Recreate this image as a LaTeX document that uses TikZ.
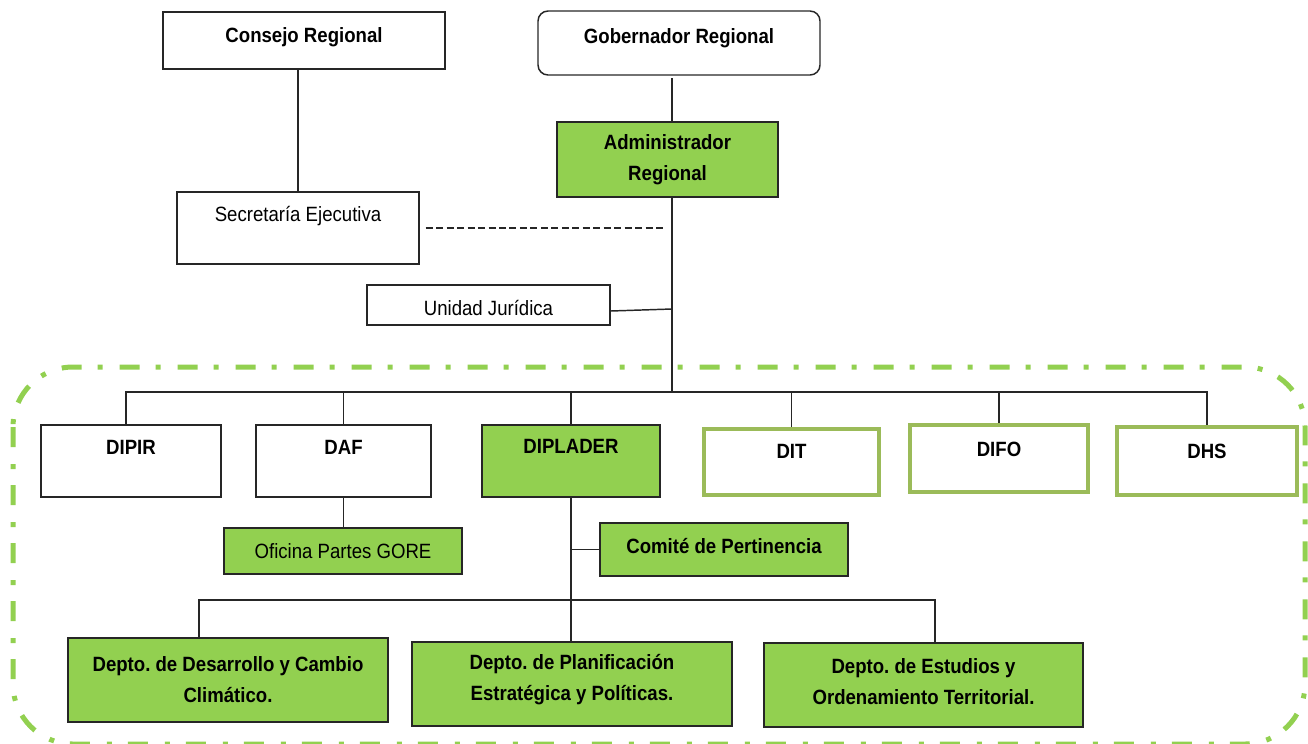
\documentclass[tikz,border=0pt]{standalone}
\usepackage{fontspec}
\setmainfont{Liberation Sans}[FakeStretch=0.9]
\frenchspacing
\newcommand\orgfont{\fontsize{15.5}{23.25}\selectfont}
\definecolor{gfill}{RGB}{146,208,80}
\definecolor{gedge}{RGB}{155,187,89}
\definecolor{gline}{RGB}{38,38,38}

\tikzset{every picture/.style={line width=1.1pt}}
\tikzset{
  box/.style={draw=gline, line width=1.1pt, inner sep=0pt},
  gbox/.style={box, fill=gfill},
  obox/.style={draw=gedge, line width=3pt, inner sep=0pt},
  btxt/.style={font=\orgfont\bfseries, align=center, inner sep=0pt},
  rtxt/.style={font=\orgfont, align=center, inner sep=0pt},
  link/.style={draw=gline, line width=1.1pt},
  frame/.style={draw=gfill, line width=3.75pt, rounded corners=45pt,
    dash pattern=on 15pt off 12.75pt on 3.75pt off 12pt}
}

\begin{document}
\begin{tikzpicture}[x=0.75pt,y=0.75pt,yscale=-1,xscale=1]
	\useasboundingbox (0,0) rectangle (1308,743);

	%Rounded Rect [green frame]
	\draw [frame] (13,367) rectangle (1305,744);

	%Top level
	\node [box, minimum width=211.5pt, minimum height=42.75pt,
	  label={[btxt, yshift=2.6pt]center:Consejo Regional}] (consejo) at (304,40.5) {};
	\node [box, rounded corners=7.5pt, minimum width=211.5pt, minimum height=48pt,
	  label={[btxt, yshift=3.75pt]center:Gobernador Regional}] (gob) at (679,43) {};
	\node [gbox, minimum width=165.75pt, minimum height=56.25pt,
	  label={[btxt]center:Administrador\\Regional}] (admin) at (667.5,159.5) {};
	\node [box, minimum width=181.5pt, minimum height=54pt,
	  label={[rtxt, yshift=9pt]center:Secretaría Ejecutiva}] (secre) at (298,228) {};
	\node [box, minimum width=182.25pt, minimum height=30pt,
	  label={[rtxt, yshift=-2.25pt]center:Unidad Jurídica}] (unidad) at (488.5,305) {};

	%Divisions
	\node [box, minimum width=135pt, minimum height=54pt,
	  label={[btxt, yshift=10.5pt]center:DIPIR}] (dipir) at (131,461) {};
	\node [box, minimum width=131.25pt, minimum height=54pt,
	  label={[btxt, yshift=10.5pt]center:DAF}] (daf) at (343.5,461) {};
	\node [gbox, minimum width=133.5pt, minimum height=54pt,
	  label={[btxt, yshift=11.25pt]center:DIPLADER}] (diplader) at (571,461) {};
	\node [obox, minimum width=131.25pt, minimum height=49.5pt,
	  label={[btxt, yshift=8.25pt]center:DIT}] (dit) at (791.5,462) {};
	\node [obox, minimum width=133.5pt, minimum height=50.25pt,
	  label={[btxt, yshift=7.1pt]center:DIFO}] (difo) at (999,458.5) {};
	\node [obox, minimum width=135pt, minimum height=51pt,
	  label={[btxt, yshift=7.5pt]center:DHS}] (dhs) at (1207,461) {};

	%Units below
	\node [gbox, minimum width=178.5pt, minimum height=34.5pt,
	  label={[rtxt]center:Oficina Partes GORE}] (oficina) at (343,551) {};
	\node [gbox, minimum width=186pt, minimum height=39.75pt,
	  label={[btxt, yshift=2.6pt]center:Comité de Pertinencia}] (comite) at (724,549.5) {};
	\node [gbox, minimum width=240pt, minimum height=63pt,
	  label={[btxt]center:Depto. de Desarrollo y Cambio\\Climático.}] (desarrollo) at (228,680) {};
	\node [gbox, minimum width=240pt, minimum height=63pt,
	  label={[btxt, yshift=3pt]center:Depto. de Planificación\\Estratégica y Políticas.}] (planif) at (572,684) {};
	\node [gbox, minimum width=239.25pt, minimum height=63pt,
	  label={[btxt, yshift=2.6pt]center:Depto. de Estudios y\\Ordenamiento Territorial.}] (estudios) at (923.5,685) {};

	%Coordinates of the two buses
	\coordinate (eje) at (672,392);
	\coordinate (eje2) at (572,600);

	%Straight Lines
	\draw [link] (secre.north) -- (secre.north |- consejo.south);
	\draw [link] ([yshift=2pt]gob.south -| eje) -- (admin.north -| eje);
	\draw [link] (admin.south -| eje) -- (eje);
	\draw [link, dash pattern=on 5.25pt off 2.6pt] ([xshift=4.5pt]secre.east) -- ([xshift=-5pt]secre.east -| eje);
	\draw [link] ([yshift=4.5pt]unidad.east) -- ([yshift=3pt]unidad.east -| eje);

	%Upper bus
	\draw [link] ([xshift=-3.75pt]dipir.north) |- (eje) -| (dhs.north);
	\foreach \n in {daf,diplader,dit,difo}
	  \draw [link] (\n.north) -- (\n.north |- eje);

	%Lower branches
	\draw [link] (daf.south) -- (daf.south |- oficina.north);
	\draw [link] (diplader.south) -- (diplader.south |- planif.north);
	\draw [link] (diplader.south |- comite.west) -- (comite.west);
	\draw [link] ([xshift=-21.75pt]desarrollo.north) |- (eje2) -| ([xshift=8.6pt]estudios.north);

\end{tikzpicture}
\end{document}
